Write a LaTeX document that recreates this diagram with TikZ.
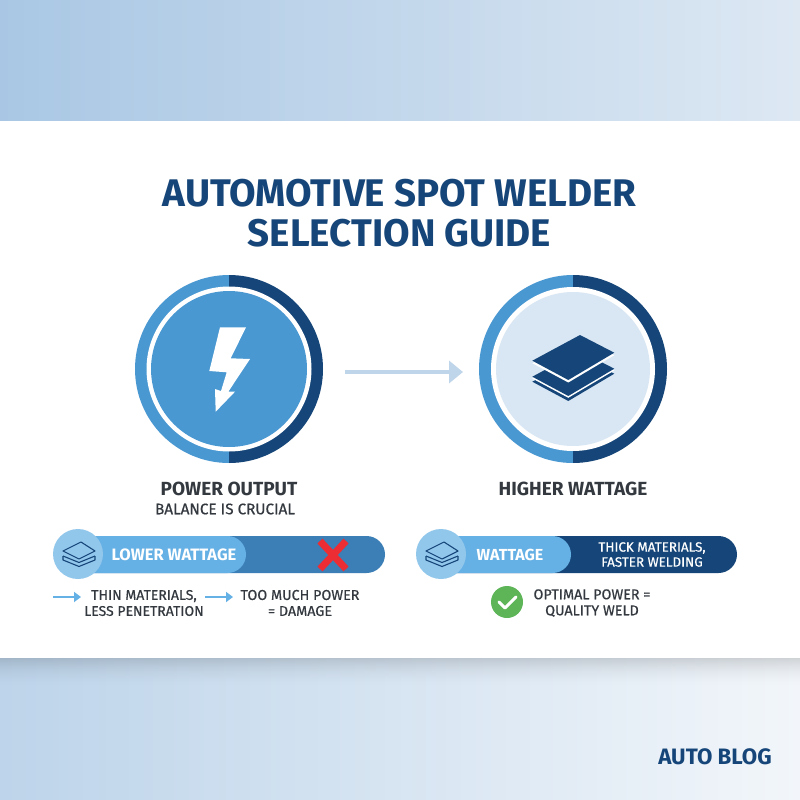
\documentclass[tikz,border=0pt]{standalone}
\usepackage{fontspec}
\setmainfont{Fira Sans}
\usetikzlibrary{arrows.meta}
\definecolor{navy}{HTML}{164679}
\definecolor{midblue}{HTML}{4A98D2}
\definecolor{lightb}{HTML}{65B0E4}
\definecolor{palec}{HTML}{D9E7F4}
\definecolor{barmid}{HTML}{3B7FB6}
\definecolor{inkdark}{HTML}{33393F}
\definecolor{arrowpale}{HTML}{BFD5EA}
\definecolor{smallc}{HTML}{92C7EC}
\definecolor{topl}{HTML}{A9C7E4}
\definecolor{topr}{HTML}{DDE8F3}
\definecolor{botl}{HTML}{BDD4EA}
\definecolor{botr}{HTML}{F2F6FA}
\definecolor{xred}{HTML}{EC2D34}
\definecolor{okgreen}{HTML}{5DB558}
\tikzset{
 x=1pt,y=-1pt,
 headtxt/.style={text=inkdark,align=center,inner sep=0pt,font=\fontsize{19}{22}\selectfont\bfseries},
 smalltxt/.style={text=inkdark,align=center,inner sep=0pt,font=\fontsize{14}{16}\selectfont\addfontfeature{FakeBold=0.5}},
 whitetxt/.style={text=white,align=center,inner sep=0pt},
 smallarr/.style={draw=lightb,line width=2.2pt,-{Triangle[length=7pt,width=10pt]}},
 titletxt/.style={text=navy,align=center,inner sep=0pt,font=\fontsize{38.5}{40.3}\selectfont\bfseries},
}
\newcommand{\outlinestack}[2]{%
 \begin{scope}[shift={(#1,#2)}]
  \draw[navy,line width=1.1pt,line join=round] (-15,2) -- (-15,6) -- (1,12.5) -- (17,6) -- (17,2);
  \draw[navy,line width=1.1pt,line join=round] (-15,2) -- (1,8.5) -- (17,2);
  \draw[navy,line width=1.1pt,line join=round] (3,-12) -- (-15,-3) -- (1,5) -- (17,-3) -- cycle;
 \end{scope}}
\newcommand{\ringpair}[2]{%
 \fill[midblue] (#1,#2) ++(0,-94) arc[start angle=90,end angle=270,radius=94pt] -- cycle;
 \fill[navy] (#1,#2) ++(0,-94) arc[start angle=90,end angle=-90,radius=94pt] -- cycle;}
\newcommand{\sheet}[2]{\fill[#1] (580,335+#2) -- (532.3,360.7+#2) -- (568.3,380+#2) -- (614.3,352.7+#2) -- cycle;}
\begin{document}
\begin{tikzpicture}
\useasboundingbox (0,0) rectangle (800,800);
% background
\fill[white] (0,0) rectangle (800,800);
\shade[left color=topl,right color=topr] (0,0) rectangle (800,120);
\shade[left color=botl,right color=botr] (0,658) rectangle (800,800);
\foreach \d in {0,...,29} {
  \pgfmathsetmacro{\op}{0.14*(1-\d/30)*(1-\d/30)}
  \fill[black,opacity=\op] (0,658+\d) rectangle (800,659+\d);
}
% title
\node[titletxt] (title) at (399.5,213) {AUTOMOTIVE SPOT WELDER\\SELECTION GUIDE};
% left big circle
\ringpair{229}{369}
\node[circle,fill=white,minimum size=165pt,inner sep=0pt] (ringa) at (229,369) {};
\node[circle,fill=midblue,minimum size=156pt,inner sep=0pt] (facea) at (229,369) {};
\fill[white] (220,327.3) -- (246,327.3) -- (230.7,358.3) -- (250,359) -- (228.3,391.7) -- (235,391.7) -- (215.7,411.7) -- (215,389) -- (221,391) -- (226.7,372.3) -- (209.3,371) -- cycle;
% right big circle
\ringpair{573}{369}
\node[circle,fill=white,minimum size=164pt,inner sep=0pt] (ringb) at (573,369) {};
\node[circle,fill=palec,minimum size=154pt,inner sep=0pt] (faceb) at (573,369) {};
\sheet{navy}{21}
\sheet{white}{17.8}
\sheet{navy}{16}
\sheet{white}{2.5}
\sheet{navy}{0}
% centre arrow
\coordinate (ca) at (345,372);
\coordinate (cb) at (463,372);
\draw[draw=arrowpale,line width=3.5pt,-{Triangle[length=14pt,width=22pt]}] (ca) -- (cb);
% headings
\node[headtxt] (po) at (229,489) {POWER OUTPUT};
\node[smalltxt,font=\fontsize{15.3}{16}\selectfont\addfontfeature{FakeBold=0.5}] (bc) at (225,509) {BALANCE IS CRUCIAL};
\node[headtxt] (hw) at (573,489) {HIGHER WATTAGE};
% left bar
\fill[barmid,rounded corners=18.5pt] (60,536) rectangle (385,573);
\fill[lightb,rounded corners=18.5pt] (60,536) rectangle (246,573);
\node[circle,fill=smallc,minimum size=50pt,inner sep=0pt] (sa) at (78,554) {};
\outlinestack{78}{554}
\node[whitetxt,font=\fontsize{16.5}{16}\selectfont\bfseries] (lw) at (174,554.5) {LOWER WATTAGE};
\draw[xred,line width=7pt] (320,541) -- (346,569);
\draw[xred,line width=7pt] (346,541) -- (320,569);
\coordinate (a1s) at (53,597);
\coordinate (a1e) at (81,597);
\draw[smallarr] (a1s) -- (a1e);
\node[smalltxt] (thin) at (144,603) {THIN MATERIALS,\\LESS PENETRATION};
\coordinate (a2s) at (205,597);
\coordinate (a2e) at (233,597);
\draw[smallarr] (a2s) -- (a2e);
\node[smalltxt,font=\fontsize{14.3}{16}\selectfont\addfontfeature{FakeBold=0.5}] (too) at (300,603) {TOO MUCH POWER\\= DAMAGE};
% right bar
\fill[navy,rounded corners=18.5pt] (420,536) rectangle (737,573);
\fill[lightb,rounded corners=18.5pt] (420,536) rectangle (571,573);
\node[circle,fill=smallc,minimum size=50pt,inner sep=0pt] (sb) at (441,554) {};
\outlinestack{441}{554}
\node[whitetxt,font=\fontsize{16}{16}\selectfont\bfseries] (wt) at (510,554.5) {WATTAGE};
\node[whitetxt,font=\fontsize{13.4}{15}\selectfont\addfontfeature{FakeBold=0.4}] (thick) at (652,554.5) {THICK MATERIALS,\\FASTER WELDING};
\node[circle,fill=okgreen,minimum size=32pt,inner sep=0pt] (ok) at (507,602) {};
\draw[white,line width=3pt,line cap=round,line join=round] (499,602) -- (505,608) -- (516,597);
\node[smalltxt,font=\fontsize{14.3}{16}\selectfont\addfontfeature{FakeBold=0.5}] (opt) at (592,603) {OPTIMAL POWER =\\QUALITY WELD\hspace{12pt}};
% brand
\node[text=navy,inner sep=0pt,font=\fontsize{22.3}{22}\selectfont\bfseries] (brand) at (715,757) {AUTO BLOG};
\end{tikzpicture}
\end{document}
